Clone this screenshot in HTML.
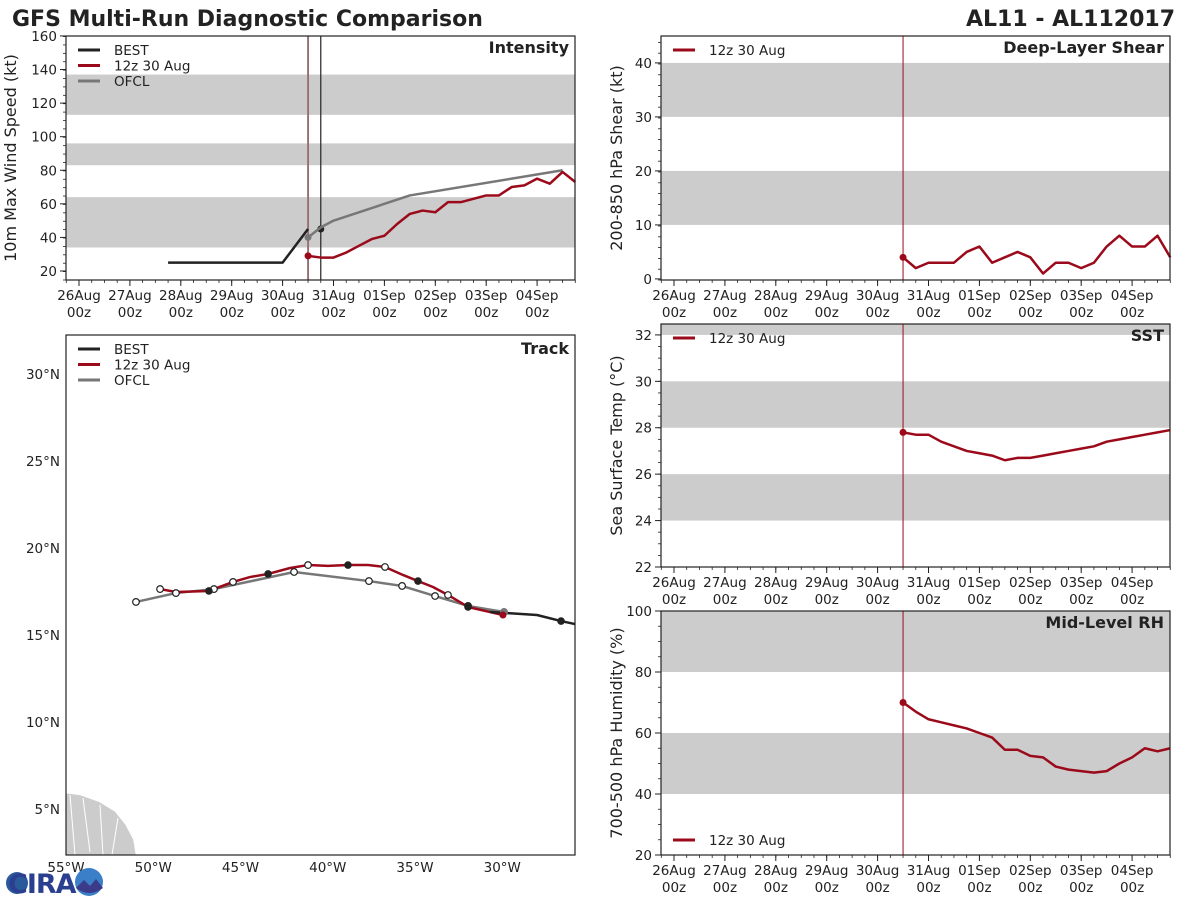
<!DOCTYPE html>
<html><head><meta charset="utf-8">
<style>
html,body{margin:0;padding:0;background:#fff;}
svg{display:block;font-family:"DejaVu Sans","Liberation Sans",sans-serif;}
</style></head>
<body>
<svg id="fig" width="1200" height="900" viewBox="0 0 1200 900" xmlns="http://www.w3.org/2000/svg">
<text x="12" y="26" font-size="22" font-weight="bold" fill="#222">GFS Multi-Run Diagnostic Comparison</text>
<text x="1175" y="26" font-size="22" font-weight="bold" fill="#222" text-anchor="end">AL11 - AL112017</text>
<g id="logo">
<circle cx="17" cy="883" r="11" fill="#2a5a9a"/>
<text x="8" y="893" font-size="27" font-weight="bold" fill="#2a3f8f" letter-spacing="-1">CIRA</text>
<circle cx="89" cy="882" r="14" fill="#3a7fc8"/>
<path d="M76 888 L84 880 L90 886 L96 879 L103 888 Q89 898 76 888Z" fill="#3b3b8a"/>
</g>
</svg>
<script>
// ---- data ----
const timeTickLabels = ["26Aug","27Aug","28Aug","29Aug","30Aug","31Aug","01Sep","02Sep","03Sep","04Sep"];
const runTimesDays = [4.5,4.75,5,5.25,5.5,5.75,6,6.25,6.5,6.75,7,7.25,7.5,7.75,8,8.25,8.5,8.75,9,9.25,9.5,9.75];
const bestTimes = [1.75,4.0,4.5];
const bestWind = [25,25,45];
const bestLastTime = 4.75, bestLastWind = 45;
const ofclTimes = [4.5,4.75,5.0,6.5,9.5];
const ofclWind = [40,46,50,65,80];
const gfsWind = [29,28,28,31,35,39,41,48,54,56,55,61,61,63,65,65,70,71,75,72,79,73];
const gfsShear = [4,2,3,3,3,5,6,3,4,5,4,1,3,3,2,3,6,8,6,6,8,4];
const gfsSST = [27.8,27.7,27.7,27.4,27.2,27.0,26.9,26.8,26.6,26.7,26.7,26.8,26.9,27.0,27.1,27.2,27.4,27.5,27.6,27.7,27.8,27.9];
const gfsRH = [70,67,64.5,63.5,62.5,61.5,60,58.5,54.5,54.5,52.5,52,49,48,47.5,47,47.5,50,52,55,54,55];
const trackGfsLon = [-49.61,-48.70,-46.81,-45.43,-44.46,-43.42,-42.16,-41.13,-39.99,-38.84,-37.69,-36.72,-35.69,-34.83,-33.97,-33.11,-31.96,-30.70,-29.96];
const trackGfsLat = [17.64,17.47,17.53,18.05,18.33,18.51,18.85,19.02,18.97,19.02,19.02,18.91,18.45,18.10,17.76,17.30,16.61,16.32,16.15];
const trackGfsOpen = [1,0,0,1,0,0,0,1,0,0,0,1,0,0,0,1,0,0,0];
const trackGfsFilled = [0,0,1,0,0,1,0,0,0,1,0,0,0,1,0,0,1,0,0];
const trackOfclLon = [-50.99,-48.70,-46.52,-41.93,-37.64,-35.74,-33.85,-31.96,-29.90];
const trackOfclLat = [16.90,17.41,17.64,18.62,18.10,17.82,17.24,16.67,16.32];
const trackBestLon = [-30.70,-28.01,-26.63,-25.83];
const trackBestLat = [16.32,16.15,15.80,15.63];
const landLon = [-55,-54.2,-53.1,-52.2,-51.6,-51.15,-51.0,-55];
const landLat = [5.9,5.8,5.4,4.85,4.1,3.25,2.35,2.35];
const latTicks = [5,10,15,20,25,30];
const lonTicks = [-55,-50,-45,-40,-35,-30];

const NS="http://www.w3.org/2000/svg";
const svg=document.getElementById('fig');
function el(tag,attrs,parent){const e=document.createElementNS(NS,tag);for(const k in attrs)e.setAttribute(k,attrs[k]);(parent||svg).appendChild(e);return e;}
const RED="#9b0a1a", GRAY="#777", BLK="#222", BAND="#cccccc";

function timePanel(name,x0,x1,y0,y1,vmin,vmax,opt){
  const g=el('g',{});
  
  
  const xs=d=>x0+13+d*50.9;
  const ys=v=>y1-(v-vmin)/(vmax-vmin)*(y1-y0);
  opt.bands.forEach(b=>{const r=el('rect',{x:x0,y:ys(Math.min(b[1],vmax)),width:x1-x0,height:ys(b[0])-ys(Math.min(b[1],vmax)),fill:BAND},g);
    
    });
  opt.yticks.forEach(v=>{el('line',{x1:x0-6,x2:x0,y1:ys(v),y2:ys(v),stroke:BLK,'stroke-width':1},g);
    const t=el('text',{x:x0-9,y:ys(v)+5,'font-size':13.5,'text-anchor':'end',fill:'#222'},g);t.textContent=v;
    
    });
  for(let v=vmin;v<=vmax+1e-6;v+=opt.minor){el('line',{x1:x0-3,x2:x0,y1:ys(v),y2:ys(v),stroke:BLK,'stroke-width':0.8},g);}
  for(let d=-0.25;d<=9.75;d+=0.25){const X=xs(d);if(X<x0||X>x1+0.5)continue;el('line',{x1:X,x2:X,y1:y1,y2:y1+3,stroke:BLK,'stroke-width':0.8},g);}
  timeTickLabels.forEach((lab,i)=>{const X=xs(i);el('line',{x1:X,x2:X,y1:y1,y2:y1+6,stroke:BLK,'stroke-width':1},g);
    const t=el('text',{x:X,y:y1+20,'font-size':13.5,'text-anchor':'middle',fill:'#222'},g);t.textContent=lab;
    
    
    const t2=el('text',{x:X,y:y1+37,'font-size':13.5,'text-anchor':'middle',fill:'#222'},g);t2.textContent="00z";
    
    });
  const yl=el('text',{x:0,y:0,'font-size':16,'text-anchor':'middle',fill:'#222',transform:`translate(${opt.ylx},${(y0+y1)/2}) rotate(-90)`},g);yl.textContent=opt.ylabel;
  
  
  const tt=el('text',{x:x1-6,y:y0+17,'font-size':16,'font-weight':'bold','text-anchor':'end',fill:'#222'},g);tt.textContent=opt.title;
  
  
  return {g,xs,ys};
}
function line(g,xsArr,ysArr,color,w,name){
  const p=el('polyline',{points:xsArr.map((x,i)=>x+','+ysArr[i]).join(' '),fill:'none',stroke:color,'stroke-width':w,'stroke-linejoin':'round'},g);
  
  
  return p;
}
function dot(g,x,y,fill,r,name,stroke){const c=el('circle',{cx:x,cy:y,r:r,fill:fill,stroke:stroke||'none','stroke-width':1.2},g);
  
  }
function legend(g,x,y,items){
  items.forEach((it,i)=>{el('line',{x1:x,x2:x+22,y1:y+i*15.5,y2:y+i*15.5,stroke:it[1],'stroke-width':3},g);
    const t=el('text',{x:x+36,y:y+i*15.5+5,'font-size':13.5,fill:'#222'},g);t.textContent=it[0];
    
    });
}
function frame(g,x0,x1,y0,y1){const r=el('rect',{x:x0,y:y0,width:x1-x0,height:y1-y0,fill:'none',stroke:BLK,'stroke-width':1.2},g);
  
  }

// Intensity
(function(){
  const x0=66,x1=575,y0=36,y1=280;
  const vmin=20-(280-271)/1.679, vmax=20+(271-36)/1.679;
  const P=timePanel('intensity',x0,x1,y0,y1,vmin,vmax,{bands:[[34,64],[83,96],[113,137]],yticks:[20,40,60,80,100,120,140,160],minor:5,ylabel:"10m Max Wind Speed (kt)",ylx:16,title:"Intensity"});
  const g=P.g;
  el('line',{x1:P.xs(4.5),x2:P.xs(4.5),y1:y0,y2:y1,stroke:"#999",'stroke-width':2},g);
  el('line',{x1:P.xs(4.5),x2:P.xs(4.5),y1:y0,y2:y1,stroke:RED,'stroke-width':0.5},g);
  el('line',{x1:P.xs(4.75),x2:P.xs(4.75),y1:y0,y2:y1,stroke:BLK,'stroke-width':1.2},g);
  line(g,bestTimes.map(P.xs),bestWind.map(P.ys),BLK,2.5,'best-intensity-line');
  dot(g,P.xs(bestLastTime),P.ys(bestLastWind),BLK,3.5,'best-current-point');
  line(g,ofclTimes.map(P.xs),ofclWind.map(P.ys),GRAY,2.5,'ofcl-intensity-line');
  dot(g,P.xs(ofclTimes[0]),P.ys(ofclWind[0]),GRAY,3.5,'ofcl-start-point');
  line(g,runTimesDays.map(P.xs),gfsWind.map(P.ys),RED,2.5,'gfs-intensity-line');
  dot(g,P.xs(runTimesDays[0]),P.ys(gfsWind[0]),RED,3.5,'gfs-start-point');
  legend(g,x0+12,y0+14,[["BEST",BLK],["12z 30 Aug",RED],["OFCL",GRAY]]);
  frame(g,x0,x1,y0,y1);
})();
// Shear
(function(){
  const x0=661,x1=1170,y0=36,y1=280;
  const P=timePanel('shear',x0,x1,y0,y1,-0.2,44.98,{bands:[[10,20],[30,40]],yticks:[0,10,20,30,40],minor:2,ylabel:"200-850 hPa Shear (kt)",ylx:622,title:"Deep-Layer Shear"});
  const g=P.g;
  el('line',{x1:P.xs(4.5),x2:P.xs(4.5),y1:y0,y2:y1,stroke:RED,'stroke-width':1},g);
  line(g,runTimesDays.map(P.xs),gfsShear.map(P.ys),RED,2.5,'gfs-shear-line');
  dot(g,P.xs(runTimesDays[0]),P.ys(gfsShear[0]),RED,3.5,'gfs-shear-start');
  legend(g,x0+12,y0+14,[["12z 30 Aug",RED]]);
  frame(g,x0,x1,y0,y1);
})();
// SST
(function(){
  const x0=661,x1=1170,y0=324,y1=567;
  const P=timePanel('sst',x0,x1,y0,y1,22,32.47,{bands:[[24,26],[28,30],[32,33]],yticks:[22,24,26,28,30,32],minor:0.5,ylabel:"Sea Surface Temp (°C)",ylx:622,title:"SST"});
  const g=P.g;
  el('line',{x1:P.xs(4.5),x2:P.xs(4.5),y1:y0,y2:y1,stroke:RED,'stroke-width':1},g);
  line(g,runTimesDays.map(P.xs),gfsSST.map(P.ys),RED,2.5,'gfs-sst-line');
  dot(g,P.xs(runTimesDays[0]),P.ys(gfsSST[0]),RED,3.5,'gfs-sst-start');
  legend(g,x0+12,y0+14,[["12z 30 Aug",RED]]);
  frame(g,x0,x1,y0,y1);
})();
// RH
(function(){
  const x0=661,x1=1170,y0=611,y1=855;
  const P=timePanel('rh',x0,x1,y0,y1,20,100,{bands:[[40,60],[80,100]],yticks:[20,40,60,80,100],minor:5,ylabel:"700-500 hPa Humidity (%)",ylx:622,title:"Mid-Level RH"});
  const g=P.g;
  el('line',{x1:P.xs(4.5),x2:P.xs(4.5),y1:y0,y2:y1,stroke:RED,'stroke-width':1},g);
  line(g,runTimesDays.map(P.xs),gfsRH.map(P.ys),RED,2.5,'gfs-rh-line');
  dot(g,P.xs(runTimesDays[0]),P.ys(gfsRH[0]),RED,3.5,'gfs-rh-start');
  legend(g,x0+12,y1-15,[["12z 30 Aug",RED]]);
  frame(g,x0,x1,y0,y1);
})();
// Track
(function(){
  const x0=66,x1=575,y0=335,y1=855;
  const g=el('g',{});
  
  
  const xs=lon=>66+(lon+55)*17.45;
  const ys=lat=>374-(lat-30)*17.4;
  const land=el('polygon',{points:landLon.map((l,i)=>xs(l)+','+ys(landLat[i])).join(' '),fill:'#cccccc'},g);
  
  
  [[70,795,75,855],[83,798,90,852],[100,805,103,855],[118,818,112,855]].forEach(s=>el('line',{x1:s[0],y1:s[1],x2:s[2],y2:s[3],stroke:'#fff','stroke-width':1},g));
  latTicks.forEach(v=>{const t=el('text',{x:x0-6,y:ys(v)+5,'font-size':13.5,'text-anchor':'end',fill:'#222'},g);t.textContent=v+"°N";
    
    });
  lonTicks.forEach(v=>{const t=el('text',{x:xs(v),y:y1+17,'font-size':13.5,'text-anchor':'middle',fill:'#222'},g);t.textContent=(-v)+"°W";
    
    });
  line(g,trackOfclLon.map(xs),trackOfclLat.map(ys),GRAY,2.5,'ofcl-track-line');
  line(g,trackGfsLon.map(xs),trackGfsLat.map(ys),RED,2.5,'gfs-track-line');
  line(g,trackBestLon.map(xs),trackBestLat.map(ys),BLK,2.5,'best-track-line');
  trackOfclLon.forEach((l,i)=>{ if(i<trackOfclLon.length-1) dot(g,xs(l),ys(trackOfclLat[i]),'#fff',3.3,'ofcl-track-point',BLK); else dot(g,xs(l),ys(trackOfclLat[i]),GRAY,4,'ofcl-track-start'); });
  trackGfsLon.forEach((l,i)=>{ if(trackGfsOpen[i]) dot(g,xs(l),ys(trackGfsLat[i]),'#fff',3.3,'gfs-track-point',BLK); if(trackGfsFilled[i]) dot(g,xs(l),ys(trackGfsLat[i]),BLK,3.8,'gfs-track-day-point'); });
  dot(g,xs(trackGfsLon[trackGfsLon.length-1]),ys(trackGfsLat[trackGfsLat.length-1]),RED,3.5,'gfs-track-start');
  dot(g,xs(trackBestLon[2]),ys(trackBestLat[2]),BLK,3.8,'best-track-point');
  const tt=el('text',{x:x1-6,y:y0+19,'font-size':16,'font-weight':'bold','text-anchor':'end',fill:'#222'},g);tt.textContent="Track";
  
  
  legend(g,x0+12,y0+14,[["BEST",BLK],["12z 30 Aug",RED],["OFCL",GRAY]]);
  frame(g,x0,x1,y0,y1);
})();
svg.appendChild(document.getElementById('logo'));
</script>
</body></html>
